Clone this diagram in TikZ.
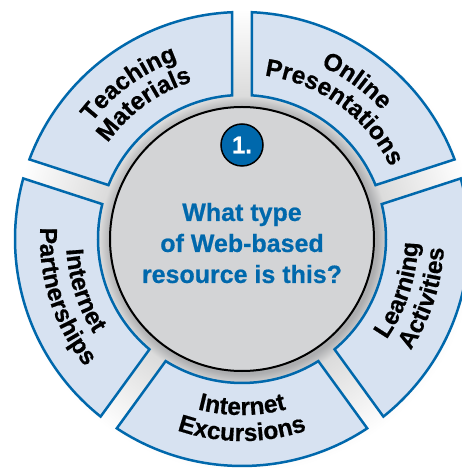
\documentclass[tikz,border=0pt]{standalone}
\usepackage{fontspec}
\setmainfont{Liberation Sans}
\newfontfamily\heavyfont[BoldFeatures={FakeBold=0.6}]{Liberation Sans}
\usetikzlibrary{decorations.text}

\definecolor{ringblue}{RGB}{0,104,172}
\definecolor{ringfill}{RGB}{215,226,241}
\definecolor{coregray}{RGB}{211,212,214}
\definecolor{shadegray}{RGB}{172,173,175}

% soft shadow under the ring
\pgfdeclareradialshading{ringshade}{\pgfpoint{0bp}{0bp}}{%
  color(0bp)=(shadegray); color(14.3bp)=(shadegray);
  color(15.6bp)=(gray!28); color(25bp)=(white); color(50bp)=(white)}

\newcommand{\ringfont}{\heavyfont\bfseries\fontsize{24.5}{24.5}\selectfont}
\newcommand{\rin}{144}
\newcommand{\rout}{227}
\newcommand{\gapw}{10}

% one ring piece between two gap directions
\newcommand{\ringseg}[2]{%
  \pgfmathsetmacro{\segin}{asin(\gapw/\rin)}%
  \pgfmathsetmacro{\segout}{asin(\gapw/\rout)}%
  \draw[segment] (#1+\segin:\rin) -- (#1+\segout:\rout)
    arc[start angle=#1+\segout, end angle=#2-\segout, radius=\rout]
    -- (#2-\segin:\rin)
    arc[start angle=#2-\segin, end angle=#1+\segin, radius=\rin] -- cycle;}

% labels read clockwise, tops outward
\newcommand{\outlabel}[3]{%
  \path[decorate, decoration={text along path, text align=center, text={|\ringfont|#2}}]
    (#1+70:190) arc[start angle=#1+70, end angle=#1-70, radius=190];
  \path[decorate, decoration={text along path, text align=center, text={|\ringfont|#3}}]
    (#1+70:165) arc[start angle=#1+70, end angle=#1-70, radius=165];}

% labels read counter-clockwise, tops inward
\newcommand{\inlabel}[3]{%
  \path[decorate, decoration={text along path, text align=center, text={|\ringfont|#2}}]
    (#1-70:176) arc[start angle=#1-70, end angle=#1+70, radius=176];
  \path[decorate, decoration={text along path, text align=center, text={|\ringfont|#3}}]
    (#1-70:202) arc[start angle=#1-70, end angle=#1+70, radius=202];}

\begin{document}
\begin{tikzpicture}[x=1pt, y=1pt,
    segment/.style={draw=ringblue, line width=2.5pt, fill=ringfill, line join=miter},
    core/.style={circle, draw=black, line width=2pt, fill=coregray, minimum size=264pt, inner sep=0pt},
    badge/.style={circle, draw=black, line width=1.5pt, fill=ringblue, text=white,
      minimum size=42pt, inner sep=0pt, font=\heavyfont\bfseries\fontsize{24}{24}\selectfont},
    question/.style={align=center, text=ringblue, font=\heavyfont\bfseries\fontsize{25}{31}\selectfont}]
  \clip (-242,-229) rectangle (220,239);
  \fill[white] (-242,-229) rectangle (220,239);

  % shadow and ring pieces
  \shade[shading=ringshade] (2,-2) circle (232);
  \foreach \a/\b in {90/162, 18/90, -54/18, -126/-54, 162/234}
    \ringseg{\a}{\b};

  % ring labels
  \outlabel{126}{Teaching}{Materials}
  \outlabel{54}{Online}{Presentations}
  \inlabel{-18}{Learning}{Activities}
  \inlabel{-90}{Internet}{Excursions}
  \inlabel{198}{Internet}{Partnerships}

  % centre
  \node[core] (hub) at (0,0) {};
  \node[badge] (num) at (0,94) {1.};
  \node[question] (ask) at (0,-4) {What type\\of Web-based\\resource is this?};
\end{tikzpicture}
\end{document}
